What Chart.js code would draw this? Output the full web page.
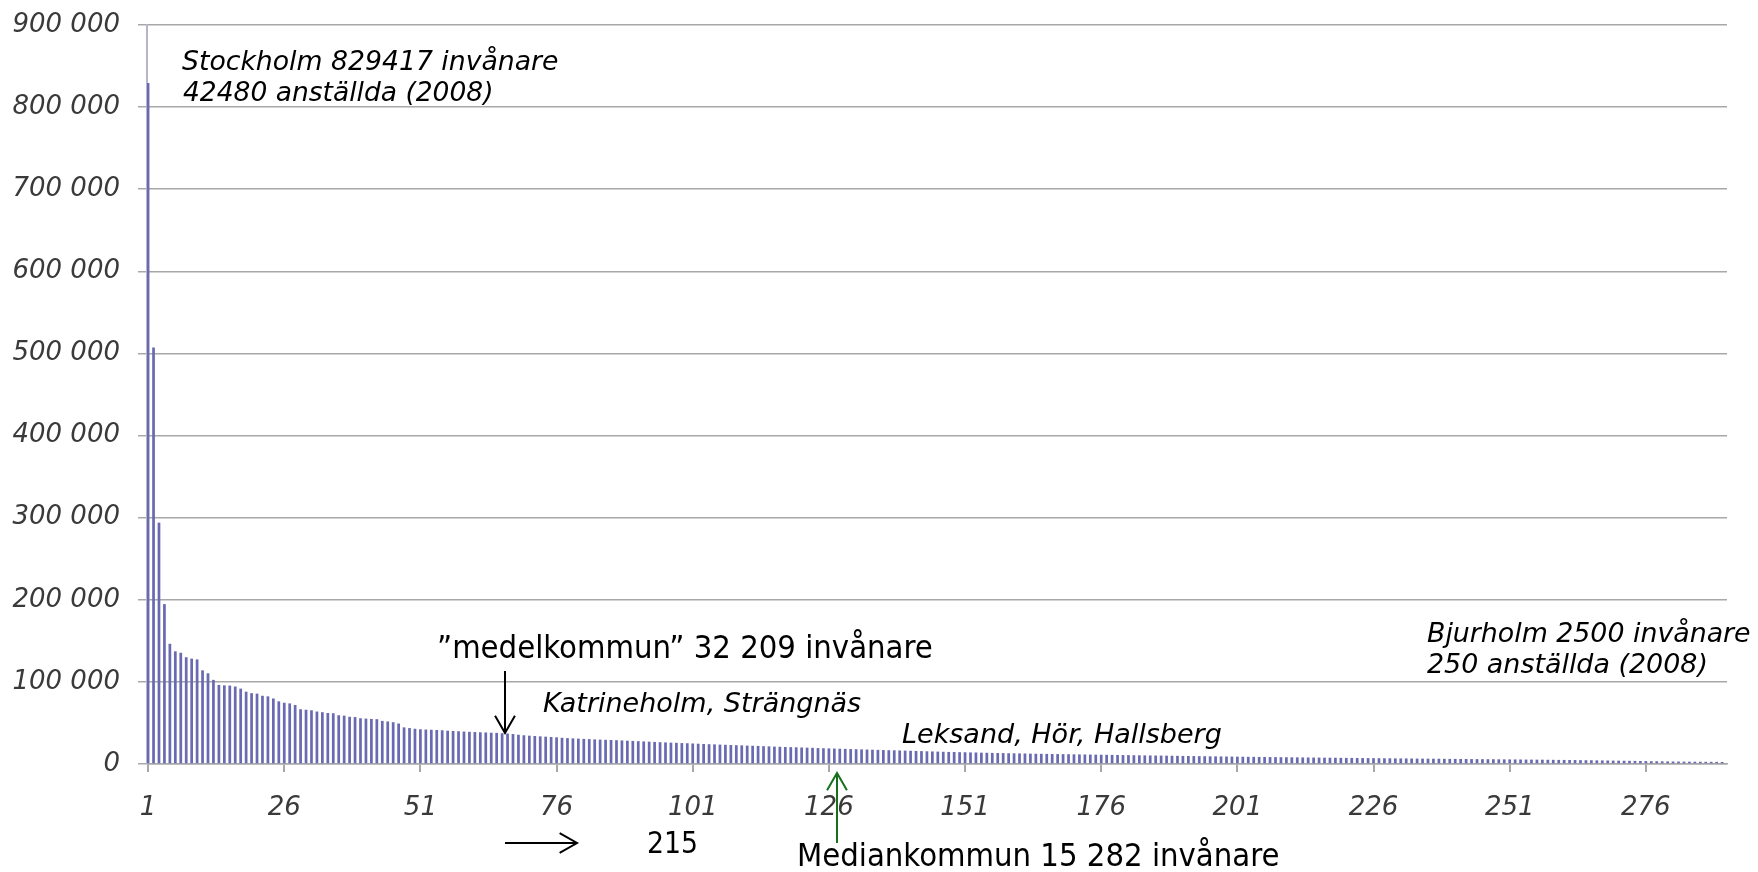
<!DOCTYPE html>
<html>
<head>
<meta charset="utf-8">
<script src="https://cdn.jsdelivr.net/npm/chart.js@4.4.1/dist/chart.umd.min.js"></script>
<style>
html, body { margin: 0; background: #fff; }
#wrap { width: 1758px; height: 872px; }
</style>
</head>
<body>
<div id="wrap"><canvas id="mainGraph"></canvas></div>
<script>
// invånare per kommun, sorterat största -> minsta
var invanare = [
    829417, 507330, 293909, 194751, 146416, 137207, 135460, 130050, 128359, 127382, 114075, 110488, 102458, 96311, 95798, 95533, 94352, 91800, 88100, 86246,
    85700, 83100, 82400, 79800, 76300, 74600, 73800, 71900, 66700, 66100, 65400, 63900, 63100, 62100, 61800, 59400, 58900, 57500, 57200, 55700,
    55300, 54900, 54600, 52500, 51800, 50900, 49300, 44600, 43800, 42900, 42300, 42000, 41700, 41400, 41100, 40600, 40200, 39900, 39500, 39200,
    38900, 38600, 38400, 38100, 37900, 37500, 37100, 36500, 35600, 35000, 34500, 34100, 33700, 33300, 32900, 32500, 31900, 31500, 31200, 30900,
    30600, 30300, 30000, 29700, 29500, 29200, 29000, 28700, 28400, 28100, 27800, 27500, 27200, 26900, 26600, 26300, 26000, 25800, 25500, 25300,
    25000, 24700, 24400, 24100, 23900, 23600, 23400, 23100, 22900, 22700, 22400, 22200, 22000, 21700, 21500, 21200, 21000, 20700, 20500, 20300,
    20100, 19900, 19700, 19400, 19200, 19000, 18800, 18600, 18400, 18200, 18000, 17800, 17600, 17400, 17200, 17000, 16800, 16700, 16500, 16300,
    16100, 15900, 15700, 15500, 15282, 15100, 14900, 14700, 14600, 14400, 14300, 14100, 14000, 13800, 13700, 13500, 13400, 13300, 13100, 13000,
    12900, 12800, 12600, 12500, 12400, 12300, 12200, 12100, 12000, 11900, 11800, 11700, 11600, 11500, 11400, 11300, 11200, 11100, 11000, 10900,
    10800, 10700, 10600, 10500, 10400, 10300, 10250, 10150, 10050, 9950, 9850, 9750, 9650, 9550, 9450, 9350, 9300, 9200, 9100, 9000,
    8950, 8850, 8750, 8700, 8600, 8550, 8450, 8400, 8300, 8250, 8150, 8100, 8000, 7950, 7850, 7800, 7700, 7650, 7600, 7500,
    7450, 7400, 7300, 7250, 7200, 7100, 7050, 7000, 6950, 6850, 6800, 6750, 6700, 6600, 6550, 6500, 6450, 6400, 6300, 6250,
    6200, 6150, 6100, 6000, 5950, 5900, 5850, 5800, 5700, 5650, 5600, 5550, 5500, 5400, 5350, 5300, 5250, 5150, 5100, 5000,
    4950, 4850, 4800, 4700, 4600, 4550, 4450, 4350, 4250, 4150, 4050, 3950, 3850, 3750, 3650, 3550, 3450, 3350, 3250, 3150,
    3050, 2950, 2900, 2850, 2800, 2750, 2700, 2650, 2580, 2500
]

var rank = []
for (var i = 1; i <= invanare.length; i++) rank.push(i)

var tickRanks = [1, 26, 51, 76, 101, 126, 151, 176, 201, 226, 251, 276]
var yMax = 900000
var yStep = 100000

var italicFamily = '"DejaVu Sans", Verdana, sans-serif'
var plainFamily = '"DejaVu Sans Condensed", "Liberation Sans", Arial, sans-serif'

// texts in the picture: w = width they take in the reference
var notes = [
    { text: 'Stockholm 829417 invånare', x: 182, y: 70, w: 376, italic: true },
    { text: '42480 anställda (2008)', x: 183, y: 101, w: 310, italic: true },
    { text: '\u201dmedelkommun\u201d 32 209 invånare', x: 437, y: 658, w: 496, italic: false },
    { text: 'Katrineholm, Strängnäs', x: 543, y: 712, w: 318, italic: true },
    { text: 'Leksand, Hör, Hallsberg', x: 902, y: 743, w: 320, italic: true },
    { text: 'Bjurholm 2500 invånare', x: 1427, y: 642, w: 324, italic: true },
    { text: '250 anställda (2008)', x: 1427, y: 673, w: 281, italic: true },
    { text: '215', x: 647, y: 853, w: 51, italic: false },
    { text: 'Mediankommun 15 282 invånare', x: 797, y: 866, w: 483, italic: false }
]

var arrows = [
    { x1: 505, y1: 671, x2: 505, y2: 733, color: '#000' },
    { x1: 505, y1: 843, x2: 577, y2: 843, color: '#000' },
    { x1: 837, y1: 843, x2: 837, y2: 773, color: '#17701c' }
]

function fitFont(ctx, text, width, style, family) {
    ctx.font = style + ' 100px ' + family
    var w = ctx.measureText(text).width
    return style + ' ' + (100 * width / w).toFixed(1) + 'px ' + family
}

function drawArrow(ctx, a) {
    var ang = Math.atan2(a.y2 - a.y1, a.x2 - a.x1)
    var len = 20
    ctx.strokeStyle = a.color
    ctx.lineWidth = 2
    ctx.beginPath()
    ctx.moveTo(a.x1, a.y1)
    ctx.lineTo(a.x2, a.y2)
    ctx.moveTo(a.x2 - len * Math.cos(ang - 0.52), a.y2 - len * Math.sin(ang - 0.52))
    ctx.lineTo(a.x2, a.y2)
    ctx.lineTo(a.x2 - len * Math.cos(ang + 0.52), a.y2 - len * Math.sin(ang + 0.52))
    ctx.stroke()
}

var notesPlugin = {
    id: 'notes',
    afterDraw: function(chart) {
        var ctx = chart.ctx
        ctx.save()
        ctx.fillStyle = '#000'
        ctx.textAlign = 'left'
        ctx.textBaseline = 'alphabetic'
        notes.forEach(function(n) {
            ctx.font = fitFont(ctx, n.text, n.w, n.italic ? 'italic' : 'normal', n.italic ? italicFamily : plainFamily)
            ctx.fillText(n.text, n.x, n.y)
        })
        arrows.forEach(function(a) { drawArrow(ctx, a) })
        ctx.restore()
    }
}

function spaced(v) {
    return String(v).replace(/\B(?=(\d{3})+(?!\d))/g, ' ')
}

var tickFont = { family: italicFamily, size: 26, style: 'italic' }

var ctx = document.getElementById('mainGraph').getContext('2d')

var chart = new Chart(ctx, {
    type: 'bar',
    data: {
        datasets: [{
            data: rank.map(function(r, i) { return { x: r, y: invanare[i] } }),
            backgroundColor: '#6a6ab2',
            borderWidth: 0,
            categoryPercentage: 1,
            barPercentage: 0.5
        }]
    },
    options: {
        responsive: true,
        maintainAspectRatio: false,
        animation: false,
        layout: { padding: { top: 25, right: 31, left: 0, bottom: 0 } },
        plugins: {
            legend: { display: false },
            tooltip: { enabled: false }
        },
        scales: {
            x: {
                type: 'linear',
                min: 0.8,
                max: 290.9,
                offset: false,
                grid: { display: true, drawOnChartArea: false, drawTicks: true, tickLength: 8, color: '#a8a8a8', lineWidth: 2, offset: false },
                border: { display: true, color: '#a8a8a8', width: 1.5 },
                ticks: {
                    autoSkip: false,
                    maxRotation: 0,
                    padding: 21,
                    color: '#3a3a3a',
                    font: tickFont,
                    callback: function(v) { return String(v) }
                },
                afterBuildTicks: function(s) {
                    s.ticks = tickRanks.map(function(v) { return { value: v } })
                },
                afterFit: function(s) {
                    s.height = 108
                    s.paddingLeft = 0
                    s.paddingRight = 0
                }
            },
            y: {
                min: 0,
                max: yMax,
                grid: { color: '#a8a8a8', lineWidth: 1.5, tickLength: 9 },
                border: { display: true, color: '#b6b6c8', width: 2 },
                ticks: {
                    stepSize: yStep,
                    padding: 18,
                    color: '#3a3a3a',
                    font: tickFont,
                    callback: function(v) { return spaced(v) }
                },
                afterFit: function(s) {
                    s.width = 147
                    s.paddingTop = 0
                    s.paddingBottom = 0
                }
            }
        }
    },
    plugins: [notesPlugin]
})
</script>
</body>
</html>
